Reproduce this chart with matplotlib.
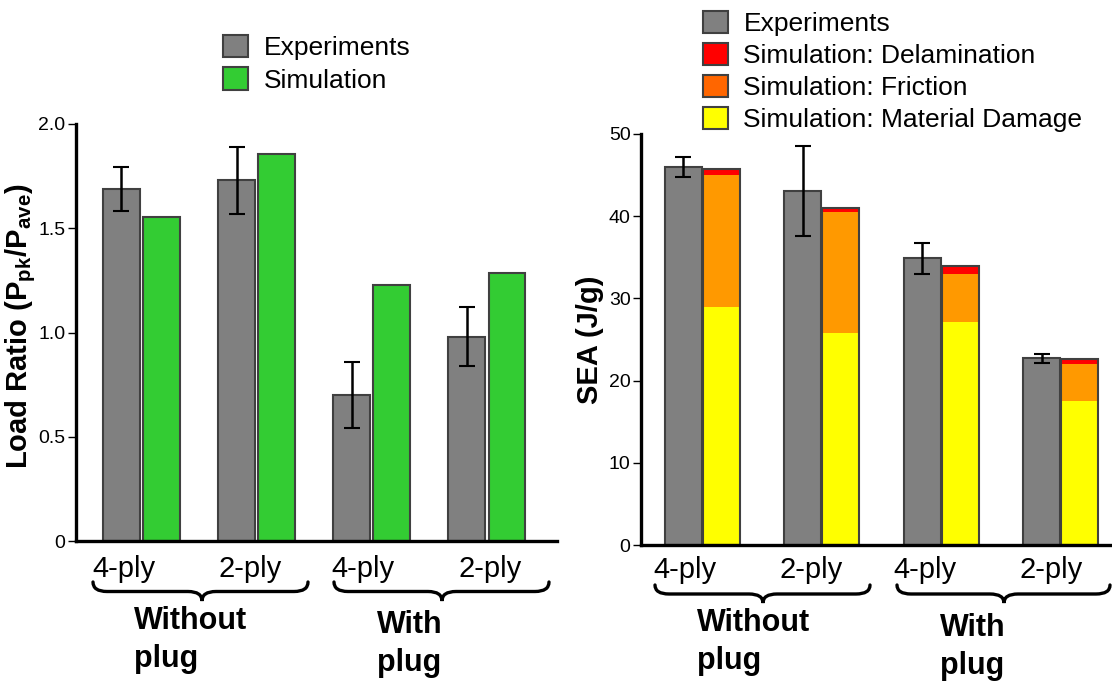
import numpy as np
import matplotlib
matplotlib.use("Agg")
import matplotlib.pyplot as plt
from matplotlib.path import Path
from matplotlib.patches import PathPatch, Patch

plt.rcParams["font.family"] = ["Liberation Sans", "DejaVu Sans"]
plt.rcParams["mathtext.fontset"] = "custom"
plt.rcParams["mathtext.rm"] = "Liberation Sans"
plt.rcParams["mathtext.bf"] = "Liberation Sans:bold"

# ==============================
# Data
# ==============================
ply_labels = ["4-ply", "2-ply", "4-ply", "2-ply"]
group_labels = ["Without\nplug", "With\nplug"]

# load ratio (left)
load_exp = [1.69, 1.73, 0.70, 0.98]
load_exp_err = [0.105, 0.16, 0.16, 0.14]
load_sim = [1.555, 1.855, 1.23, 1.284]

# SEA (right)
sea_exp = [46.0, 43.1, 34.9, 22.7]
sea_exp_err = [1.2, 5.5, 1.9, 0.55]
sea_damage = [29.0, 25.8, 27.1, 17.5]
sea_friction = [16.0, 14.75, 5.9, 4.5]
sea_delam = [0.8, 0.4, 0.9, 0.6]

GRAY = "#808080"
GREEN = "#33CC33"
RED = "#FF0000"
ORANGE = "#FF9900"
YELLOW = "#FFFF00"
EDGE = "#404040"

fig = plt.figure(figsize=(11.12, 6.81), dpi=100)

W, H = 1112, 681


def style_axes(ax):
    for s in ["top", "right"]:
        ax.spines[s].set_visible(False)
    for s in ["left", "bottom"]:
        ax.spines[s].set_linewidth(2.4)
    ax.tick_params(axis="y", labelsize=14, length=5.5, width=1, pad=2)
    ax.tick_params(axis="x", length=0, labelsize=21)


# ==============================
# Left: load ratio
# ==============================
ax1 = fig.add_axes([76 / W, 1 - 541 / H, 481 / W, 417 / H])
x = np.arange(4)
w = 0.32
ax1.bar(x - 0.175, load_exp, w, color=GRAY, edgecolor=EDGE, linewidth=1.5,
        label="Experiments")
ax1.errorbar(x - 0.175, load_exp, yerr=load_exp_err, fmt="none", ecolor="black",
             elinewidth=1.8, capsize=5.5, capthick=1.5)
ax1.bar(x + 0.175, load_sim, w, color=GREEN, edgecolor=EDGE, linewidth=1.5,
        label="Simulation")
ax1.set_xlim(-0.57, 3.61)
ax1.set_ylim(0, 2.0)
ax1.set_yticks([0, 0.5, 1.0, 1.5, 2.0], ["0", "0.5", "1.0", "1.5", "2.0"])
ax1.set_xticks([-0.15, 0.94, 1.92, 3.03], ply_labels)
style_axes(ax1)
ax1.tick_params(axis="x", pad=10)
ax1.set_ylabel(r"Load Ratio (P$_{\mathbf{pk}}$/P$_{\mathbf{ave}}$)",
               fontsize=21, fontweight="bold")
ax1.yaxis.set_label_coords(-0.079, 0.515)
ax1.legend(loc="upper left", bbox_to_anchor=(212 / W, 1 - 24 / H),
           bbox_transform=fig.transFigure, frameon=False, fontsize=19,
           handlelength=0.95, handleheight=0.95, handletextpad=0.6,
           labelspacing=0.28, borderaxespad=0)

# ==============================
# Right: SEA
# ==============================
ax2 = fig.add_axes([641 / W, 1 - 545 / H, 471 / W, 411 / H])
bot2 = np.array(sea_damage)
bot3 = bot2 + np.array(sea_friction)
ax2.bar(x - 0.16, sea_exp, 0.31, color=GRAY, edgecolor=EDGE, linewidth=1.5)
ax2.errorbar(x - 0.16, sea_exp, yerr=sea_exp_err, fmt="none", ecolor="black",
             elinewidth=1.8, capsize=5.5, capthick=1.5)
ax2.bar(x + 0.16, sea_damage, 0.31, color=YELLOW, edgecolor="none")
ax2.bar(x + 0.16, sea_friction, 0.31, bottom=bot2, color=ORANGE, edgecolor="none")
ax2.bar(x + 0.16, sea_delam, 0.31, bottom=bot3, color=RED, edgecolor="none")
ax2.bar(x + 0.16, bot3 + np.array(sea_delam), 0.31, color="none",
        edgecolor=EDGE, linewidth=1.5)
ax2.set_xlim(-0.515, 3.43)
ax2.set_ylim(0, 50)
ax2.set_yticks([0, 10, 20, 30, 40, 50])
ax2.set_xticks([-0.15, 0.91, 1.86, 2.92], ply_labels)
style_axes(ax2)
ax2.tick_params(axis="x", pad=8)
ax2.set_ylabel("SEA (J/g)", fontsize=21, fontweight="bold")
ax2.yaxis.set_label_coords(-0.078, 0.5)

handles = [Patch(facecolor=GRAY, edgecolor=EDGE, linewidth=1.5),
           Patch(facecolor=RED, edgecolor=EDGE, linewidth=1.5),
           Patch(facecolor="#FF6600", edgecolor=EDGE, linewidth=1.5),
           Patch(facecolor=YELLOW, edgecolor=EDGE, linewidth=1.5)]
names = ["Experiments", "Simulation: Delamination", "Simulation: Friction",
         "Simulation: Material Damage"]
ax2.legend(handles, names, loc="upper left", bbox_to_anchor=(692 / W, 1 - 0 / H),
           bbox_transform=fig.transFigure, frameon=False, fontsize=19,
           handlelength=0.95, handleheight=0.95, handletextpad=0.6,
           labelspacing=0.25, borderaxespad=0)

# ==============================
# Braces and group labels (pixel overlay)
# ==============================
ov = fig.add_axes([0, 0, 1, 1])
ov.set_xlim(0, W)
ov.set_ylim(H, 0)
ov.axis("off")


def brace(x0, x1, y0, ytip, xc=None):
    if xc is None:
        xc = (x0 + x1) / 2
    ym = (y0 + ytip) / 2
    r = 14
    verts = [(x0, y0), (x0, ym), (x0 + r, ym), (xc - r, ym), (xc, ym), (xc, ytip),
             (xc, ym), (xc + r, ym), (x1 - r, ym), (x1, ym), (x1, y0)]
    codes = [Path.MOVETO, Path.CURVE3, Path.CURVE3, Path.LINETO, Path.CURVE3,
             Path.CURVE3, Path.CURVE3, Path.CURVE3, Path.LINETO, Path.CURVE3,
             Path.CURVE3]
    ov.add_patch(PathPatch(Path(verts, codes), facecolor="none", edgecolor="black",
                           linewidth=2.4, capstyle="round"))


brace(93, 308, 582, 601, 202)
brace(334, 549, 582, 601, 442)
brace(655, 870, 585, 603, 763)
brace(897, 1110, 585, 603, 1004)

gl_kw = dict(fontsize=22, fontweight="bold", ha="left", va="top", linespacing=1.33)
ov.text(134, 606, group_labels[0], **gl_kw)
ov.text(377, 610, group_labels[1], **gl_kw)
ov.text(697, 608, group_labels[0], **gl_kw)
ov.text(940, 613, group_labels[1], **gl_kw)

fig.savefig("out.png", dpi=100)
